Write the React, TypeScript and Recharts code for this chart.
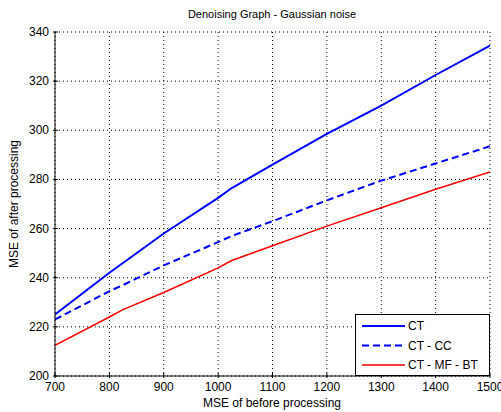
import React from "react";
import { LineChart, Line, XAxis, YAxis, CartesianGrid } from "recharts";

const xValues = [700, 800, 825, 900, 1000, 1025, 1100, 1200, 1300, 1400, 1500];
const ctValues = [225, 242, 246, 258, 272.5, 276.5, 286, 298.5, 310, 322.5, 334.5];
const ctCcValues = [223, 234.5, 237, 245, 254.5, 257, 263, 271.5, 279.5, 286.5, 293.5];
const ctMfBtValues = [212.5, 224, 227, 234, 244, 247, 253, 261, 268.5, 276, 283];
const xTicks = [700, 800, 900, 1000, 1100, 1200, 1300, 1400, 1500];
const yTicks = [200, 220, 240, 260, 280, 300, 320, 340];

const seriesNames = ["CT", "CT - CC", "CT - MF - BT"];

const data = xValues.map((x, i) => ({
  x,
  ct: ctValues[i],
  ctcc: ctCcValues[i],
  ctmfbt: ctMfBtValues[i],
}));

const FONT = "'Liberation Sans', Arial, sans-serif";

const XTick = (props: any) => {
  const { x, y, payload } = props;
  return (
    <g>
      <line x1={x} x2={x} y1={y} y2={y - 5} stroke="#000" strokeWidth={1} />
      <text x={x} y={y + 13} textAnchor="middle" fontSize={12} fontFamily={FONT} fill="#000">
        {payload.value}
      </text>
    </g>
  );
};

const YTick = (props: any) => {
  const { x, y, payload } = props;
  return (
    <g>
      <line x1={x} x2={x + 5} y1={y} y2={y} stroke="#000" strokeWidth={1} />
      <text x={x - 4} y={y + 4} textAnchor="end" fontSize={12} fontFamily={FONT} fill="#000">
        {payload.value}
      </text>
    </g>
  );
};

const TopTick = (props: any) => {
  const { x, y } = props;
  return <line x1={x} x2={x} y1={y} y2={y + 5} stroke="#000" strokeWidth={1} />;
};

const RightTick = (props: any) => {
  const { x, y } = props;
  return <line x1={x} x2={x - 5} y1={y} y2={y} stroke="#000" strokeWidth={1} />;
};

const legendRows = [
  { name: seriesNames[0], color: "#0000ff", dash: undefined as string | undefined, w: 2 },
  { name: seriesNames[1], color: "#0000ff", dash: "7 4", w: 2 },
  { name: seriesNames[2], color: "#ff0000", dash: undefined as string | undefined, w: 1.5 },
];

const LegendBox = () => (
  <svg width={135} height={62} style={{ display: "block" }}>
    <rect x={0.5} y={0.5} width={134} height={61} fill="#fff" stroke="#000" strokeWidth={1} />
    {legendRows.map((r, i) => {
      const cy = 12 + i * 19.5;
      return (
        <g key={r.name}>
          <line x1={7} x2={50} y1={cy} y2={cy} stroke={r.color} strokeWidth={r.w} strokeDasharray={r.dash} />
          <text x={53} y={cy + 4} fontSize={12} fontFamily={FONT} fill="#000">
            {r.name}
          </text>
        </g>
      );
    })}
  </svg>
);

export default function App() {
  return (
    <div style={{ position: "absolute", left: 0, top: 0, width: 501, height: 412, background: "#fff" }}>
      <LineChart width={501} height={412} data={data} margin={{ top: 32, right: 11, left: 0, bottom: 0 }}>
        <CartesianGrid stroke="#000" strokeDasharray="1 3" strokeWidth={1} />
        <XAxis
          dataKey="x"
          type="number"
          domain={[700, 1500]}
          ticks={xTicks}
          allowDataOverflow
          height={36}
          tickLine={false}
          tickSize={0}
          axisLine={{ stroke: "#000" }}
          tick={<XTick />}
          interval={0}
        />
        <XAxis
          xAxisId="top"
          dataKey="x"
          type="number"
          orientation="top"
          domain={[700, 1500]}
          ticks={xTicks}
          height={0}
          tickLine={false}
          tickSize={0}
          axisLine={{ stroke: "#000" }}
          tick={<TopTick />}
          interval={0}
        />
        <YAxis
          type="number"
          domain={[200, 340]}
          ticks={yTicks}
          width={55}
          tickLine={false}
          tickSize={0}
          axisLine={{ stroke: "#000" }}
          tick={<YTick />}
          interval={0}
        />
        <YAxis
          yAxisId="right"
          orientation="right"
          type="number"
          domain={[200, 340]}
          ticks={yTicks}
          width={0}
          tickLine={false}
          tickSize={0}
          axisLine={{ stroke: "#000" }}
          tick={<RightTick />}
          interval={0}
        />
        <Line dataKey="ct" name={seriesNames[0]} stroke="#0000ff" strokeWidth={2} dot={false} isAnimationActive={false} />
        <Line dataKey="ctcc" name={seriesNames[1]} stroke="#0000ff" strokeWidth={2} strokeDasharray="7 4" dot={false} isAnimationActive={false} />
        <Line dataKey="ctmfbt" name={seriesNames[2]} stroke="#ff0000" strokeWidth={1.5} dot={false} isAnimationActive={false} />
        <text x={272} y={18} textAnchor="middle" fontSize={11} fontFamily={FONT} fill="#000">
          Denoising Graph - Gaussian noise
        </text>
        <text x={272} y={407} textAnchor="middle" fontSize={12} fontFamily={FONT} fill="#000">
          MSE of before processing
        </text>
        <text
          x={18}
          y={204}
          textAnchor="middle"
          fontSize={12}
          fontFamily={FONT}
          fill="#000"
          transform="rotate(-90 18 204)"
        >
          MSE of after processing
        </text>
      </LineChart>
      <div style={{ position: "absolute", left: 355, top: 314 }}>
        <LegendBox />
      </div>
    </div>
  );
}
